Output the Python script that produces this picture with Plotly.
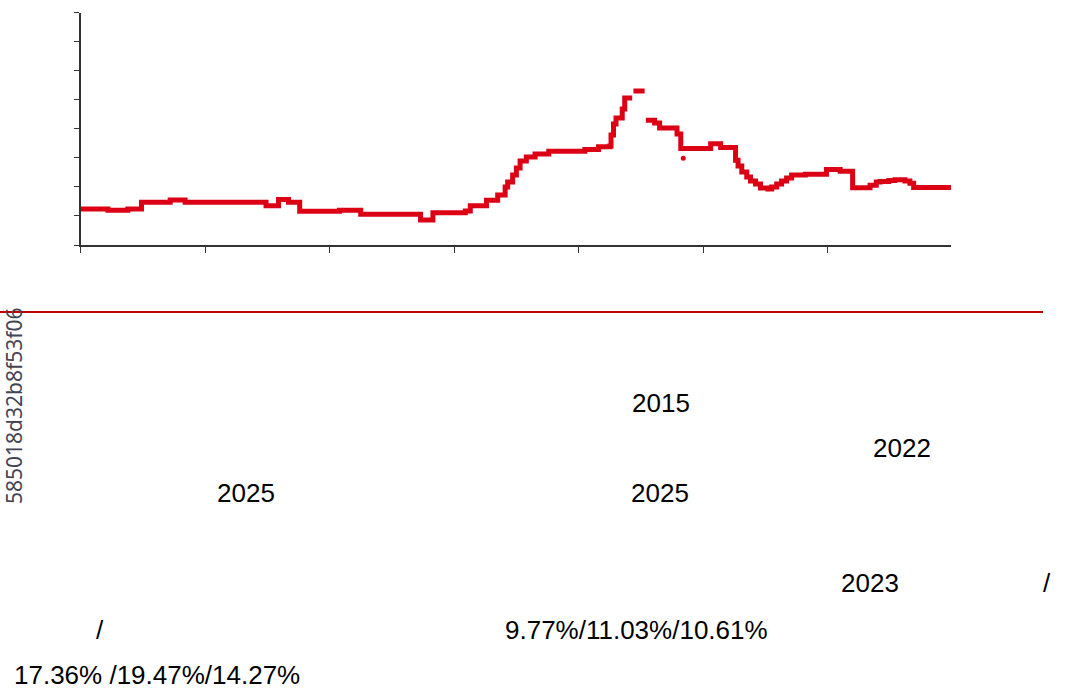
import plotly.graph_objects as go

W, H = 1071, 691

# Step series (x = year index along axis, y = value); None breaks the line
seg_main_x = [0.00, 0.22, 0.38, 0.49, 0.72, 0.84, 1.49, 1.59, 1.67, 1.76, 2.08, 2.25,
              2.73, 2.83, 3.09, 3.13, 3.26, 3.35, 3.41, 3.43, 3.47, 3.50, 3.53, 3.58,
              3.65, 3.76, 4.05, 4.16, 4.25, 4.26, 4.28, 4.30, 4.35, 4.37, 4.43]
seg_main_y = [1.24, 1.20, 1.24, 1.47, 1.55, 1.47, 1.35, 1.57, 1.47, 1.16, 1.20, 1.06,
              0.86, 1.11, 1.17, 1.35, 1.54, 1.72, 2.00, 2.17, 2.41, 2.65, 2.89, 3.03,
              3.13, 3.23, 3.29, 3.38, 3.41, 3.79, 4.17, 4.37, 4.68, 5.06, 5.06]

seg_peak_x = [4.44, 4.53]
seg_peak_y = [5.30, 5.30]

seg_tail_x = [4.54, 4.61, 4.65, 4.79, 4.82, 5.06, 5.14, 5.26, 5.28, 5.31, 5.35, 5.38,
              5.42, 5.46, 5.52, 5.55, 5.59, 5.63, 5.67, 5.71, 5.82, 5.99, 6.10, 6.20,
              6.33, 6.34, 6.39, 6.42, 6.49, 6.54, 6.62, 6.66, 6.69, 6.99]
seg_tail_y = [4.30, 4.20, 4.03, 3.82, 3.32, 3.49, 3.36, 2.92, 2.72, 2.51, 2.34, 2.20,
              2.10, 1.96, 1.93, 2.00, 2.10, 2.20, 2.31, 2.41, 2.44, 2.60, 2.54, 1.97,
              1.97, 2.06, 2.17, 2.19, 2.22, 2.25, 2.20, 2.13, 1.98, 1.98]

outlier_x = [4.84]
outlier_y = [2.99]

x_ticks = [0, 1, 2, 3, 4, 5, 6]
y_ticks = [0, 1, 2, 3, 4, 5, 6, 7, 8]

rotated_id = "585018d32b8f53f06"
texts = ["2015", "2022", "2025", "2025", "2023", "/", "/",
         "9.77%/11.03%/10.61%", "17.36% /19.47%/14.27%"]

RED = "#dc0014"

line_x = seg_main_x + [None] + seg_peak_x + [None] + seg_tail_x
line_y = seg_main_y + [None] + seg_peak_y + [None] + seg_tail_y

fig = go.Figure()
fig.add_trace(go.Scatter(x=line_x, y=line_y, mode="lines", line_shape="hv",
                         line=dict(color=RED, width=5), connectgaps=False,
                         showlegend=False, hoverinfo="skip"))
fig.add_trace(go.Scatter(x=outlier_x, y=outlier_y, mode="markers",
                         marker=dict(color=RED, size=5), showlegend=False))

px = lambda v: v / W
py = lambda v: 1 - v / H

axis_common = dict(showline=True, linecolor="#333333", linewidth=1.5,
                   ticks="outside", tickcolor="#333333", tickwidth=1.2,
                   showticklabels=False, showgrid=False, zeroline=False)

fig.update_layout(
    width=W, height=H, margin=dict(l=0, r=0, t=0, b=0),
    paper_bgcolor="white", plot_bgcolor="white",
    xaxis=dict(domain=[px(80.5), px(951)], range=[0, 6.99], tickvals=x_ticks,
               ticklen=6, **axis_common),
    yaxis=dict(domain=[py(245), py(12.7)], range=[0, 8], tickvals=y_ticks,
               ticklen=5, **axis_common),
    font=dict(family="Liberation Sans, Arial, sans-serif", color="black"),
)

fig.add_shape(type="line", xref="paper", yref="paper",
              x0=0, x1=px(1043), y0=py(312), y1=py(312),
              line=dict(color="#c00000", width=2))

# text fragments: (text, x, y, anchor)
placements = [
    (texts[0], 661, 403, "center"),
    (texts[1], 902, 448, "center"),
    (texts[2], 246, 493, "center"),
    (texts[3], 660, 493, "center"),
    (texts[4], 870, 583, "center"),
    (texts[5], 1047, 583, "center"),
    (texts[6], 100, 630, "center"),
    (texts[7], 636, 630, "center"),
    (texts[8], 12, 675, "left"),
]
for t, x, y, anc in placements:
    fig.add_annotation(text=t, x=px(x), y=py(y), xref="paper", yref="paper",
                       xanchor=anc, yanchor="middle", showarrow=False,
                       font=dict(size=26, color="black"))

fig.add_annotation(text=rotated_id, x=px(14), y=py(506), xref="paper", yref="paper",
                   xanchor="center", yanchor="bottom", textangle=-90, showarrow=False,
                   font=dict(size=21, color="#444455", family="Noto Sans, DejaVu Sans"))

fig.write_html("out.html", config={"displayModeBar": False},
               post_script="document.body.style.margin='0';document.body.style.overflow='hidden';")
